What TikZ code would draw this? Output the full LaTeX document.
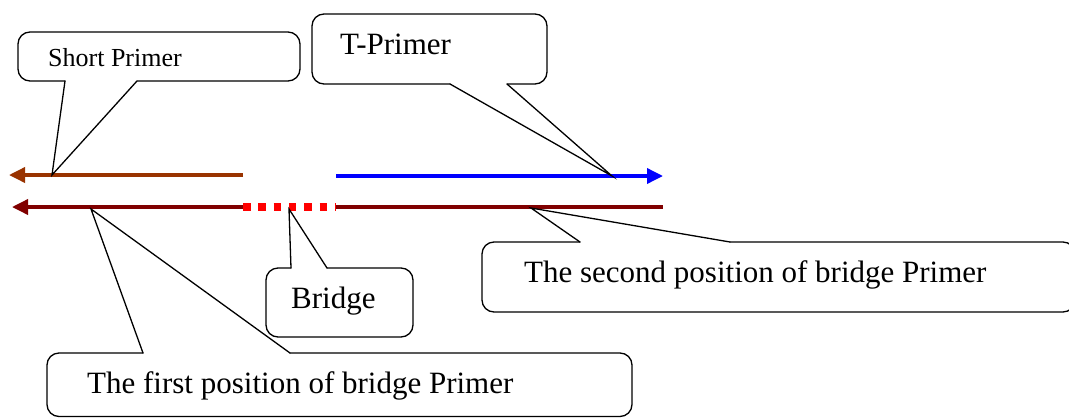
\documentclass[tikz,border=0pt]{standalone}
\usepackage{fontspec}
\setmainfont{Liberation Serif}
\usetikzlibrary{arrows.meta}
\definecolor{primerbrown}{RGB}{153,51,0}
\definecolor{templatered}{RGB}{128,0,0}
\tikzset{
  strand/.style={line width=3.5pt},
  balloon/.style={black,line width=1.3pt,line cap=round,rounded corners=12pt},
  beak/.style={black,line width=1.3pt,line cap=round,line join=miter},
  tag/.style={anchor=base west,inner sep=0pt,font=\fontsize{31}{31}\selectfont},
}
\begin{document}
\begin{tikzpicture}[x=1pt,y=-1pt]
   \useasboundingbox (0,0) rectangle (1069,418);
   % strands
   \draw [strand,primerbrown,-{Triangle[length=16pt,width=15pt]}] (243,175) -- (9,175);
   \draw [strand,blue,-{Triangle[length=16pt,width=15pt]}] (336,176) -- (663,176);
   \draw [strand,templatered,-{Triangle[length=16pt,width=15pt]}] (243,207) -- (12,207);
   \draw [red,line width=7.5pt,dash pattern=on 7.5pt off 7.8pt] (243,207) -- (336,207);
   \draw [strand,templatered] (336,207) -- (663,207);
   % tips
   \coordinate (shorttip) at (52,175);
   \coordinate (ttip) at (612,176);
   \coordinate (bridgetip) at (289,209);
   \coordinate (secondtip) at (531,208);
   \coordinate (firsttip) at (91,209);
   % callouts
   \draw [balloon] (137,81) -- (300,81) -- (300,32) -- (18,32) -- (18,81) -- (65,81);
   \draw [beak] (65,81) -- (shorttip) -- (137,81);
   \node [tag,font=\fontsize{26}{26}\selectfont] (short) at (48,66) {Short Primer};

   \draw [balloon] (507,84) -- (547,84) -- (547,14) -- (312,14) -- (312,84) -- (450,84);
   \draw [beak] (450,84) -- (ttip) -- (507,84);
   \node [tag] (tprimer) at (340,54) {T-Primer};

   \draw [balloon] (327,268) -- (413,268) -- (413,337) -- (266,337) -- (266,268) -- (291,268);
   \draw [beak] (291,268) -- (bridgetip) -- (327,268);
   \node [tag] (bridge) at (291,308) {Bridge};

   \draw [balloon] (730,242) -- (1075,242) -- (1075,312) -- (482,312) -- (482,242) -- (580,242);
   \draw [beak] (580,242) -- (secondtip) -- (730,242);
   \node [tag] (second) at (524,282) {The second position of bridge Primer};

   \draw [balloon] (290,353) -- (632,353) -- (632,416.5) -- (47,416.5) -- (47,353) -- (143,353);
   \draw [beak] (143,353) -- (firsttip) -- (290,353);
   \node [tag] (first) at (87,393) {The first position of bridge Primer};
\end{tikzpicture}
\end{document}
